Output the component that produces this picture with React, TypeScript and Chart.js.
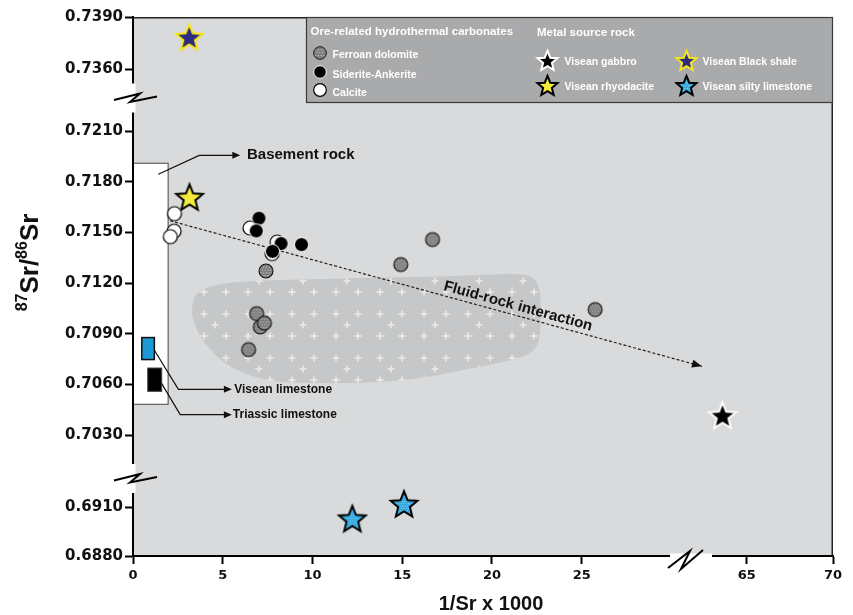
import React, { useEffect, useRef } from "react";
import { Chart, registerables } from "chart.js";
Chart.register(...registerables);

const FONT = "'Liberation Sans', Arial, Helvetica, sans-serif";
const TICK_FONT = "'DejaVu Sans', sans-serif";

// ---- axis ticks ----
const xTickValues = [0, 5, 10, 15, 20, 25, 65, 70];
const yTickValues = [0.688, 0.691, 0.703, 0.706, 0.709, 0.712, 0.715, 0.718, 0.721, 0.736, 0.739];

// ---- Ore-related hydrothermal carbonates ----
const ferroanDolomiteX = [7.41, 16.69, 14.92, 6.89, 7.09, 7.32, 6.44, 25.75];
const ferroanDolomiteY = [0.71272, 0.71458, 0.7131, 0.7102, 0.70941, 0.70964, 0.70807, 0.71044];
const sideriteAnkeriteX = [7.02, 6.87, 8.25, 7.77, 9.39];
const sideriteAnkeriteY = [0.71584, 0.71509, 0.71434, 0.71388, 0.71428];
const calciteX = [2.31, 2.29, 2.08, 6.52, 7.75, 8.03];
const calciteY = [0.71611, 0.71507, 0.71475, 0.71526, 0.71375, 0.71443];

// ---- Metal source rock ----
const gabbroX = [63.6];
const gabbroY = [0.70418];
const rhyodaciteX = [3.15];
const rhyodaciteY = [0.71709];
const blackShaleX = [3.13];
const blackShaleY = [0.73785];
const siltyLimestoneX = [12.22, 15.1];
const siltyLimestoneY = [0.69029, 0.69119];

// ---- ranges [xMin, xMax, yMin, yMax] ----
const basementRockRange = [0, 1.96, 0.70483, 0.71909];
const viseanLimestoneRange = [0.49, 1.19, 0.70748, 0.70878];
const triassicLimestoneRange = [0.82, 1.6, 0.7056, 0.70698];

// ---- leaders ----
const basementLeaderX = [1.41, 3.69, 5.7];
const basementLeaderY = [0.71844, 0.71956, 0.71956];
const viseanLeaderX = [1.19, 2.53, 5.23];
const viseanLeaderY = [0.70803, 0.70572, 0.70572];
const triassicLeaderX = [1.6, 2.63, 5.23];
const triassicLeaderY = [0.70606, 0.70422, 0.70422];

// ---- fluid-rock interaction trend ----
const trendX = [2.07, 31.7];
const trendY = [0.71569, 0.70708];
const trendLabelX = 21.45;
const trendLabelY = 0.71063;

// ---- field outline ----
const fieldX = [3.3, 3.52, 4.41, 6.54, 12.12, 17.71, 21.34, 22.35, 22.68, 22.68, 22.4, 21.34, 18.27, 14.92, 11.01, 7.65, 5.42, 4.02, 3.41];
const fieldY = [0.71051, 0.71128, 0.71181, 0.71211, 0.71229, 0.71241, 0.71253, 0.71223, 0.71128, 0.70921, 0.70815, 0.70755, 0.70684, 0.70625, 0.70608, 0.70625, 0.70708, 0.70844, 0.70968];

// ---- broken axes: value segments -> display units ----
const X_SEGMENTS = [
  { from: 0, to: 25, start: 0, end: 448.7 },
  { from: 65, to: 70, start: 613.7, end: 700 },
];
const X_SPLIT = 45;
const Y_SEGMENTS = [
  { from: 0.688, to: 0.691, start: 0, end: 49 },
  { from: 0.703, to: 0.721, start: 120.7, end: 425 },
  { from: 0.736, to: 0.739, start: 486.7, end: 539 },
];
const Y_SPLITS = [0.697, 0.7285];

function mapSeg(s: any, v: number) {
  return s.start + ((v - s.from) * (s.end - s.start)) / (s.to - s.from);
}
function xToD(v: number) {
  return mapSeg(v < X_SPLIT ? X_SEGMENTS[0] : X_SEGMENTS[1], v);
}
function yToD(v: number) {
  const s = v < Y_SPLITS[0] ? Y_SEGMENTS[0] : v < Y_SPLITS[1] ? Y_SEGMENTS[1] : Y_SEGMENTS[2];
  return mapSeg(s, v);
}
function pts(xs: number[], ys: number[]) {
  return xs.map((x, i) => ({ x: xToD(x), y: yToD(ys[i]) }));
}

// ---- marker images ----
function speckle(g: CanvasRenderingContext2D, cx: number, cy: number, r: number, color: string, step: number) {
  g.fillStyle = color;
  let row = 0;
  for (let yy = -r; yy <= r; yy += step, row++) {
    const off = row % 2 ? step / 2 : 0;
    for (let xx = -r + off; xx <= r; xx += step) {
      g.fillRect(cx + xx, cy + yy, 1, 1);
    }
  }
}
function makeCircle(r: number, fill: string, stroke: string, lw: number, dots?: string) {
  const size = Math.ceil(2 * r + lw + 2);
  const c = document.createElement("canvas");
  c.width = size;
  c.height = size;
  const g = c.getContext("2d")!;
  const cx = size / 2, cy = size / 2;
  g.beginPath();
  g.arc(cx, cy, r, 0, Math.PI * 2);
  g.fillStyle = fill;
  g.fill();
  if (dots) {
    g.save();
    g.beginPath();
    g.arc(cx, cy, r - 0.5, 0, Math.PI * 2);
    g.clip();
    speckle(g, cx, cy, r, dots, 2.8);
    g.restore();
  }
  g.beginPath();
  g.arc(cx, cy, r, 0, Math.PI * 2);
  g.lineWidth = lw;
  g.strokeStyle = stroke;
  g.stroke();
  return c;
}
function starPath(g: CanvasRenderingContext2D, cx: number, cy: number, R: number) {
  g.beginPath();
  for (let i = 0; i < 10; i++) {
    const rr = i % 2 === 0 ? R : R * 0.44;
    const a = -Math.PI / 2 + (i * Math.PI) / 5;
    g.lineTo(cx + rr * Math.cos(a), cy + rr * Math.sin(a));
  }
  g.closePath();
}
function makeStar(R: number, fill: string, stroke: string, lw: number, dots?: string) {
  const size = Math.ceil(2 * R + lw * 2 + 4);
  const c = document.createElement("canvas");
  c.width = size;
  c.height = size;
  const g = c.getContext("2d")!;
  const cx = size / 2, cy = size / 2 + R * 0.09;
  starPath(g, cx, cy, R);
  g.fillStyle = fill;
  g.fill();
  if (dots) {
    g.save();
    starPath(g, cx, cy, R);
    g.clip();
    speckle(g, cx, cy, R, dots, 2.4);
    g.restore();
  }
  starPath(g, cx, cy, R);
  g.lineJoin = "miter";
  g.lineWidth = lw;
  g.strokeStyle = stroke;
  g.stroke();
  return c;
}

function smoothClosed(ctx: CanvasRenderingContext2D, p: number[][]) {
  const n = p.length;
  ctx.beginPath();
  ctx.moveTo(p[0][0], p[0][1]);
  for (let i = 0; i < n; i++) {
    const p0 = p[(i - 1 + n) % n], p1 = p[i], p2 = p[(i + 1) % n], p3 = p[(i + 2) % n];
    ctx.bezierCurveTo(
      p1[0] + (p2[0] - p0[0]) / 6, p1[1] + (p2[1] - p0[1]) / 6,
      p2[0] - (p3[0] - p1[0]) / 6, p2[1] - (p3[1] - p1[1]) / 6,
      p2[0], p2[1]
    );
  }
  ctx.closePath();
}
function arrowHead(ctx: CanvasRenderingContext2D, fx: number, fy: number, tx: number, ty: number, len: number, w: number) {
  const a = Math.atan2(ty - fy, tx - fx);
  ctx.beginPath();
  ctx.moveTo(tx, ty);
  ctx.lineTo(tx - len * Math.cos(a) + (w / 2) * Math.sin(a), ty - len * Math.sin(a) - (w / 2) * Math.cos(a));
  ctx.lineTo(tx - len * Math.cos(a) - (w / 2) * Math.sin(a), ty - len * Math.sin(a) + (w / 2) * Math.cos(a));
  ctx.closePath();
  ctx.fill();
}

function makePattern(ctx: CanvasRenderingContext2D) {
  const t = document.createElement("canvas");
  t.width = 44;
  t.height = 44;
  const g = t.getContext("2d")!;
  g.fillStyle = "#c6c7c8";
  g.fillRect(0, 0, 44, 44);
  g.strokeStyle = "rgba(238,238,238,0.95)";
  g.lineWidth = 1.5;
  const cross = (x: number, y: number) => {
    g.beginPath();
    g.moveTo(x - 3.5, y);
    g.lineTo(x + 3.5, y);
    g.moveTo(x, y - 3.5);
    g.lineTo(x, y + 3.5);
    g.stroke();
  };
  cross(6, 6);
  cross(28, 6);
  cross(6, 28);
  cross(28, 28);
  cross(39, 17);
  return ctx.createPattern(t, "repeat");
}

export default function App() {
  const ref = useRef<HTMLCanvasElement>(null);
  useEffect(() => {
    const canvas = ref.current!;
    const dolomiteImg = makeCircle(7, "#7e7e7e", "#111", 1.1, "rgba(215,215,215,0.9)");
    const sideriteImg = makeCircle(7, "#000", "#fff", 1, undefined);
    const calciteImg = makeCircle(7, "#fff", "#000", 1.2, undefined);
    const gabbroImg = makeStar(14, "#000", "#fff", 2);
    const rhyoImg = makeStar(14, "#f3ea3e", "#000", 2);
    const shaleImg = makeStar(14, "#2e2b80", "#f5e61a", 2);
    const siltyImg = makeStar(14, "#2aa7e0", "#000", 2, "rgba(210,240,255,0.8)");

    const legendDol = makeCircle(6.3, "#7e7e7e", "#111", 1, "rgba(215,215,215,0.9)");
    const legendSid = makeCircle(6.3, "#000", "#fff", 1);
    const legendCal = makeCircle(6.3, "#fff", "#000", 1.2);
    const legGab = makeStar(10.5, "#000", "#fff", 2);
    const legRhy = makeStar(10.5, "#f3ea3e", "#000", 2);
    const legSha = makeStar(10.5, "#2e2b80", "#f5e61a", 2);
    const legSil = makeStar(10.5, "#2aa7e0", "#000", 2, "rgba(210,240,255,0.8)");

    const decor = {
      id: "decor",
      beforeDraw(chart: any) {
        const ctx: CanvasRenderingContext2D = chart.ctx;
        const a = chart.chartArea;
        const sx = chart.scales.x, sy = chart.scales.y;
        const px = (v: number) => sx.getPixelForValue(xToD(v));
        const py = (v: number) => sy.getPixelForValue(yToD(v));
        ctx.save();
        ctx.fillStyle = "#d9dadb";
        ctx.fillRect(a.left, a.top, a.right - a.left, a.bottom - a.top);

        // field
        const fp = fieldX.map((x, i) => [px(x), py(fieldY[i])]);
        smoothClosed(ctx, fp);
        ctx.fillStyle = makePattern(ctx) as any;
        ctx.fill();

        // ranges
        const rect = (r: number[], fill: string, stroke: string, lw: number) => {
          const x0 = px(r[0]), x1 = px(r[1]), y0 = py(r[3]), y1 = py(r[2]);
          ctx.fillStyle = fill;
          ctx.fillRect(x0, y0, x1 - x0, y1 - y0);
          ctx.lineWidth = lw;
          ctx.strokeStyle = stroke;
          ctx.strokeRect(x0, y0, x1 - x0, y1 - y0);
        };
        rect(basementRockRange, "#ffffff", "#6b6b6b", 1.3);
        rect(viseanLimestoneRange, "#1c9ad6", "#111", 1.5);
        rect(triassicLimestoneRange, "#000", "#444", 1);

        // leaders
        ctx.strokeStyle = "#111";
        ctx.fillStyle = "#111";
        ctx.lineWidth = 1.2;
        const leader = (xs: number[], ys: number[]) => {
          ctx.beginPath();
          xs.forEach((x, i) => (i ? ctx.lineTo(px(x), py(ys[i])) : ctx.moveTo(px(x), py(ys[i]))));
          ctx.stroke();
          const n = xs.length;
          arrowHead(ctx, px(xs[n - 2]), py(ys[n - 2]), px(xs[n - 1]) + 5, py(ys[n - 1]), 8, 7);
        };
        leader(basementLeaderX, basementLeaderY);
        leader(viseanLeaderX, viseanLeaderY);
        leader(triassicLeaderX, triassicLeaderY);

        ctx.textBaseline = "middle";
        ctx.textAlign = "left";
        ctx.fillStyle = "#111";
        ctx.font = `bold 15px ${FONT}`;
        ctx.fillText("Basement rock", px(6.35), py(basementLeaderY[2]));
        ctx.font = `bold 12px ${FONT}`;
        ctx.fillText("Visean limestone", px(5.64), py(viseanLeaderY[2]));
        ctx.fillText("Triassic limestone", px(5.56), py(triassicLeaderY[2]));

        // trend
        const tx0 = px(trendX[0]), ty0 = py(trendY[0]), tx1 = px(trendX[1]), ty1 = py(trendY[1]);
        ctx.save();
        ctx.setLineDash([3, 2]);
        ctx.lineWidth = 1.2;
        ctx.strokeStyle = "#222";
        ctx.beginPath();
        ctx.moveTo(tx0, ty0);
        ctx.lineTo(tx1, ty1);
        ctx.stroke();
        ctx.restore();
        ctx.fillStyle = "#111";
        arrowHead(ctx, tx0, ty0, tx1, ty1, 10, 8);
        ctx.save();
        ctx.translate(px(trendLabelX), py(trendLabelY));
        ctx.rotate(Math.atan2(ty1 - ty0, tx1 - tx0));
        ctx.textAlign = "center";
        ctx.font = `bold 15px ${FONT}`;
        ctx.fillText("Fluid-rock interaction", 0, 0);
        ctx.restore();
        ctx.restore();
      },
      afterDraw(chart: any) {
        const ctx: CanvasRenderingContext2D = chart.ctx;
        const a = chart.chartArea;
        ctx.save();
        // top/right frame
        ctx.strokeStyle = "#222";
        ctx.lineWidth = 1.5;
        ctx.beginPath();
        ctx.moveTo(a.left, a.top + 0.75);
        ctx.lineTo(a.right - 0.75, a.top + 0.75);
        ctx.lineTo(a.right - 0.75, a.bottom);
        ctx.stroke();

        // legend box
        const lx = 306, ly = 17, lw = a.right - 306, lh = 86;
        ctx.fillStyle = "#a9aaac";
        ctx.fillRect(lx, ly, lw, lh);
        ctx.strokeStyle = "#3a3a3a";
        ctx.lineWidth = 1.2;
        ctx.strokeRect(lx + 0.5, ly + 0.5, lw - 1, lh - 1);
        ctx.fillStyle = "#ffffff";
        ctx.textBaseline = "middle";
        ctx.textAlign = "left";
        ctx.font = `bold 11.5px ${FONT}`;
        ctx.fillText("Ore-related hydrothermal carbonates", 310.5, 31.5);
        ctx.fillText("Metal source rock", 537, 32.5);
        const icon = (img: HTMLCanvasElement, x: number, y: number) =>
          ctx.drawImage(img, Math.round(x - img.width / 2), Math.round(y - img.height / 2));
        icon(legendDol, 319.5, 52.5);
        icon(legendSid, 319.5, 71.5);
        icon(legendCal, 319.5, 90);
        icon(legGab, 547.5, 60);
        icon(legRhy, 547.5, 85.5);
        icon(legSha, 686, 60);
        icon(legSil, 686, 85.5);
        ctx.fillStyle = "#ffffff";
        ctx.font = `bold 10.5px ${FONT}`;
        ctx.fillText("Ferroan dolomite", 332.5, 55.5);
        ctx.fillText("Siderite-Ankerite", 332.5, 75);
        ctx.fillText("Calcite", 332.5, 93);
        ctx.fillText("Visean gabbro", 564.5, 62.5);
        ctx.fillText("Visean rhyodacite", 564.5, 87.5);
        ctx.fillText("Visean Black shale", 702.5, 62.5);
        ctx.fillText("Visean silty limestone", 702.5, 87.5);

        // axis breaks
        const yBreaks = [97.5, 478];
        ctx.strokeStyle = "#000";
        ctx.lineWidth = 2;
        ctx.lineJoin = "miter";
        yBreaks.forEach((yb) => {
          ctx.fillStyle = "#ffffff";
          ctx.fillRect(a.left - 6, yb - 14, 8.5, 29);
          ctx.beginPath();
          ctx.moveTo(a.left - 19, yb + 2.5);
          ctx.lineTo(a.left + 7, yb - 4);
          ctx.lineTo(a.left - 3, yb + 4.5);
          ctx.lineTo(a.left + 24, yb - 1);
          ctx.stroke();
        });
        const xb = 690;
        ctx.fillStyle = "#ffffff";
        ctx.fillRect(xb - 20, a.bottom - 2.5, 42, 5);
        ctx.beginPath();
        ctx.moveTo(xb - 22, a.bottom + 12);
        ctx.lineTo(xb, a.bottom - 5);
        ctx.lineTo(xb - 9, a.bottom + 13);
        ctx.lineTo(xb + 13, a.bottom - 6);
        ctx.stroke();

        // axis titles
        ctx.fillStyle = "#111";
        ctx.textAlign = "center";
        ctx.textBaseline = "alphabetic";
        ctx.font = `bold 20px ${FONT}`;
        ctx.fillText("1/Sr x 1000", (a.left + a.right) / 2 + 8, 610);

        ctx.save();
        ctx.translate(38, (a.top + a.bottom) / 2 - 24);
        ctx.rotate(-Math.PI / 2);
        ctx.textAlign = "left";
        const parts: [string, boolean][] = [["87", true], ["Sr/", false], ["86", true], ["Sr", false]];
        const fontFor = (sup: boolean) => (sup ? `bold 16px ${FONT}` : `bold 26px ${FONT}`);
        let total = 0;
        parts.forEach(([t, s]) => {
          ctx.font = fontFor(s);
          total += ctx.measureText(t).width;
        });
        let x = -total / 2;
        parts.forEach(([t, s]) => {
          ctx.font = fontFor(s);
          ctx.fillText(t, x, s ? -11 : 0);
          x += ctx.measureText(t).width;
        });
        ctx.restore();
        ctx.restore();
      },
    };

    const ds = (label: string, xs: number[], ys: number[], img: HTMLCanvasElement) => ({
      label,
      data: pts(xs, ys),
      pointStyle: img,
      pointRadius: 7,
      showLine: false,
    });

    const chart = new Chart(canvas, {
      type: "scatter",
      data: {
        datasets: [
          ds("Siderite-Ankerite", sideriteAnkeriteX, sideriteAnkeriteY, sideriteImg),
          ds("Calcite", calciteX, calciteY, calciteImg),
          ds("Ferroan dolomite", ferroanDolomiteX, ferroanDolomiteY, dolomiteImg),
          ds("Visean gabbro", gabbroX, gabbroY, gabbroImg),
          ds("Visean rhyodacite", rhyodaciteX, rhyodaciteY, rhyoImg),
          ds("Visean Black shale", blackShaleX, blackShaleY, shaleImg),
          ds("Visean silty limestone", siltyLimestoneX, siltyLimestoneY, siltyImg),
        ] as any,
      },
      options: {
        animation: false,
        responsive: false,
        maintainAspectRatio: false,
        events: [],
        layout: { padding: { left: 0, top: 17, right: 20, bottom: 0 } },
        plugins: { legend: { display: false }, tooltip: { enabled: false } },
        scales: {
          x: {
            type: "linear",
            min: 0,
            max: 700,
            afterBuildTicks: (s: any) => {
              s.ticks = xTickValues.map((v) => ({ value: xToD(v) }));
            },
            afterFit: (s: any) => {
              s.height = 59;
            },
            ticks: {
              autoSkip: false,
              maxRotation: 0,
              padding: 4,
              color: "#111",
              font: { family: TICK_FONT, weight: "bold", size: 13 },
              callback: (_v: any, i: number) => String(xTickValues[i]),
            },
            grid: { drawOnChartArea: false, drawTicks: true, tickLength: 8, tickWidth: 2, tickColor: "#000" },
            border: { display: true, color: "#000", width: 2 },
          },
          y: {
            type: "linear",
            min: 0,
            max: 539,
            afterBuildTicks: (s: any) => {
              s.ticks = yTickValues.map((v) => ({ value: yToD(v) }));
            },
            afterFit: (s: any) => {
              s.width = 133;
            },
            ticks: {
              autoSkip: false,
              padding: 2,
              color: "#111",
              font: { family: TICK_FONT, weight: "bold", size: 15 },
              callback: (_v: any, i: number) => yTickValues[i].toFixed(4),
            },
            grid: { drawOnChartArea: false, drawTicks: true, tickLength: 8, tickWidth: 2, tickColor: "#000" },
            border: { display: true, color: "#000", width: 2 },
          },
        } as any,
      },
      plugins: [decor],
    });
    return () => chart.destroy();
  }, []);

  return (
    <div style={{ position: "fixed", left: 0, top: 0, width: 853, height: 615, background: "#fff" }}>
      <canvas ref={ref} width={853} height={615} style={{ display: "block" }} />
    </div>
  );
}
